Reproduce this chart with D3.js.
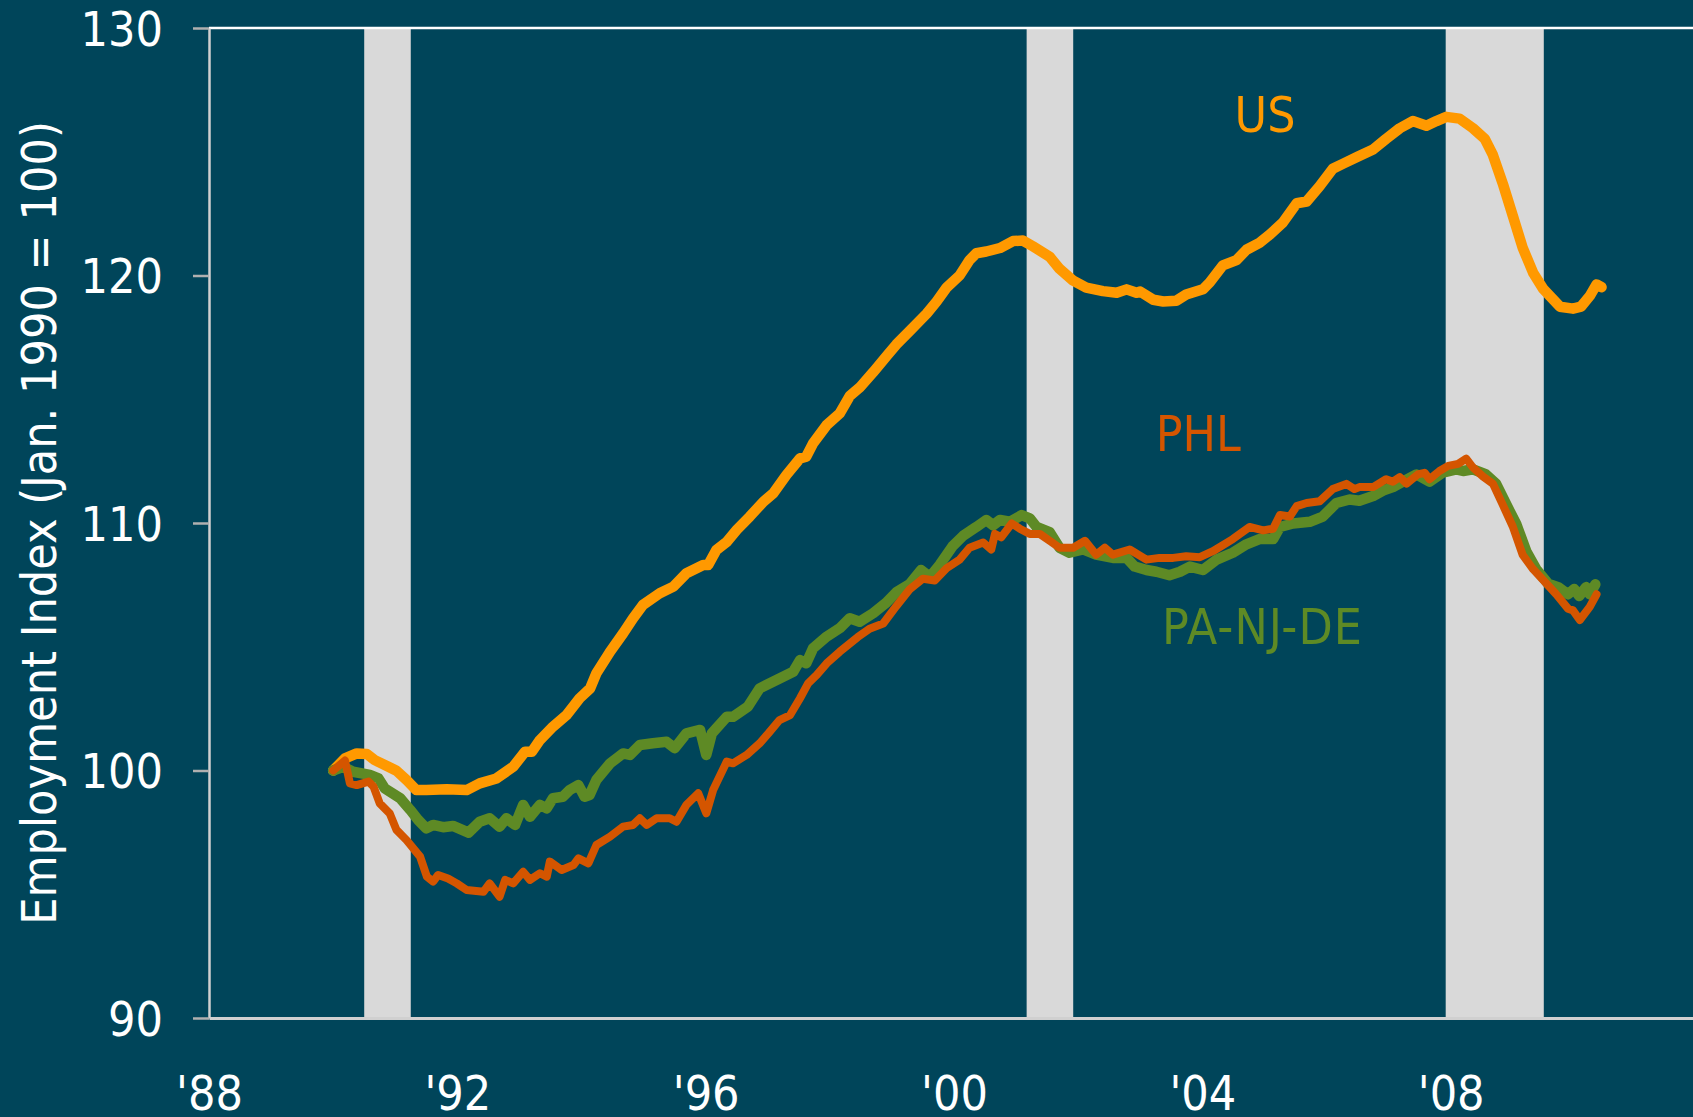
<!DOCTYPE html>
<html><head><meta charset="utf-8">
<script src="https://cdn.jsdelivr.net/npm/d3@7"></script>
<style>
html,body{margin:0;padding:0;background:#00455a;overflow:hidden;}
text{font-family:"DejaVu Sans Condensed","DejaVu Sans",sans-serif;font-stretch:condensed;}
</style></head><body>
<svg id="chart" width="1693" height="1117"></svg>
<script>
// ---- data ----
const yearTicks = [1988, 1992, 1996, 2000, 2004, 2008];
const yearTickLabels = ["'88", "'92", "'96", "'00", "'04", "'08"];
const valueTicks = [90, 100, 110, 120, 130];
const recessionStarts = [1990.5, 2001.17, 2007.92];
const recessionEnds = [1991.25, 2001.92, 2009.5];
const seriesNames = ["US", "PHL", "PA-NJ-DE"];
const yAxisTitle = "Employment Index (Jan. 1990 = 100)";

const usYears = [1990.0,1990.19,1990.38,1990.54,1990.67,1990.89,1991.02,1991.18,1991.34,1991.5,
1991.83,1992.15,1992.36,1992.63,1992.9,1993.09,1993.2,1993.33,1993.54,1993.76,
1993.97,1994.14,1994.24,1994.46,1994.67,1994.83,1994.99,1995.26,1995.48,1995.69,
1995.96,1996.04,1996.17,1996.34,1996.5,1996.71,1996.93,1997.09,1997.3,1997.52,
1997.62,1997.73,1997.95,1998.16,1998.32,1998.48,1998.7,1998.91,1999.07,1999.29,
1999.56,1999.72,1999.88,2000.09,2000.25,2000.36,2000.52,2000.74,2000.95,2001.11,
2001.27,2001.54,2001.7,2001.92,2002.13,2002.4,2002.62,2002.78,2002.94,2003.0,
2003.21,2003.37,2003.58,2003.74,2004.01,2004.12,2004.33,2004.55,2004.71,2004.92,
2005.09,2005.3,2005.52,2005.68,2005.89,2006.1,2006.27,2006.5,2006.75,2006.96,
2007.18,2007.39,2007.61,2007.77,2007.93,2008.14,2008.36,2008.55,2008.68,2008.84,
2009.0,2009.16,2009.33,2009.49,2009.76,2009.97,2010.1,2010.24,2010.35,2010.43];
const usValues = [100.0,100.49,100.69,100.67,100.42,100.15,99.99,99.62,99.21,99.21,
99.24,99.21,99.48,99.68,100.15,100.76,100.76,101.23,101.77,102.24,
102.92,103.32,103.93,104.8,105.54,106.15,106.69,107.16,107.43,107.97,
108.3,108.3,108.9,109.24,109.72,110.26,110.86,111.2,111.94,112.61,
112.68,113.22,113.96,114.43,115.13,115.47,116.1,116.73,117.21,117.77,
118.46,118.95,119.51,120.0,120.62,120.9,120.97,121.11,121.39,121.41,
121.18,120.76,120.27,119.79,119.51,119.37,119.3,119.44,119.3,119.35,
119.02,118.95,118.98,119.23,119.44,119.72,120.41,120.62,121.04,121.32,
121.66,122.15,122.92,122.99,123.61,124.31,124.52,124.8,125.09,125.52,
125.95,126.24,126.05,126.24,126.41,126.34,125.95,125.52,124.87,123.71,
122.42,121.12,120.1,119.46,118.74,118.66,118.74,119.17,119.64,119.53];

const regionYears = [1990.0,1990.16,1990.32,1990.59,1990.73,1990.83,1991.08,1991.24,1991.37,1991.5,
1991.61,1991.77,1991.93,1992.18,1992.36,1992.52,1992.68,1992.79,1992.93,1993.06,
1993.17,1993.33,1993.44,1993.54,1993.7,1993.81,1993.95,1994.05,1994.13,1994.24,
1994.46,1994.67,1994.78,1994.94,1995.15,1995.37,1995.5,1995.69,1995.91,1996.01,
1996.1,1996.34,1996.44,1996.68,1996.87,1997.19,1997.41,1997.52,1997.62,1997.73,
1997.95,1998.16,1998.32,1998.48,1998.7,1998.91,1999.07,1999.29,1999.47,1999.61,
1999.77,1999.98,2000.15,2000.36,2000.52,2000.63,2000.74,2000.9,2001.09,2001.22,
2001.33,2001.54,2001.7,2001.86,2002.08,2002.29,2002.56,2002.78,2002.91,2003.1,
2003.26,2003.47,2003.64,2003.8,2004.01,2004.23,2004.49,2004.71,2004.92,2005.14,
2005.25,2005.46,2005.73,2005.94,2006.16,2006.37,2006.53,2006.75,2006.91,2007.07,
2007.23,2007.45,2007.66,2007.87,2008.09,2008.2,2008.36,2008.57,2008.73,2008.9,
2009.06,2009.22,2009.38,2009.57,2009.73,2009.89,2009.99,2010.07,2010.18,2010.24,
2010.33];
const regionValues = [100.0,100.15,99.95,99.82,99.68,99.28,98.88,98.41,98.0,97.66,
97.8,97.71,97.76,97.49,97.93,98.07,97.73,98.07,97.8,98.61,
98.13,98.61,98.47,98.88,98.94,99.21,99.41,98.94,99.01,99.62,
100.29,100.69,100.63,101.03,101.1,101.16,100.9,101.5,101.64,100.63,
101.5,102.17,102.17,102.58,103.32,103.72,103.99,104.46,104.33,104.94,
105.41,105.75,106.15,106.01,106.36,106.78,107.2,107.54,108.1,107.82,
108.31,109.07,109.49,109.84,110.12,109.91,110.12,110.05,110.32,110.19,
109.84,109.63,109.0,108.8,108.93,108.72,108.59,108.59,108.24,108.1,
108.03,107.89,108.03,108.24,108.1,108.52,108.8,109.14,109.35,109.35,
109.84,109.98,110.05,110.26,110.81,110.95,110.9,111.09,111.31,111.45,
111.67,111.96,111.67,112.03,112.17,112.1,112.17,111.96,111.59,110.73,
109.94,108.85,108.13,107.55,107.41,107.12,107.33,107.05,107.41,107.12,
107.52];

const phlYears = [1990.0,1990.19,1990.27,1990.38,1990.57,1990.65,1990.75,1990.91,1991.02,1991.18,
1991.4,1991.51,1991.61,1991.69,1991.85,1991.99,1992.15,1992.42,1992.52,1992.68,
1992.77,1992.9,1993.06,1993.17,1993.33,1993.44,1993.49,1993.68,1993.87,1993.95,
1994.11,1994.24,1994.46,1994.67,1994.83,1994.94,1995.05,1995.21,1995.42,1995.53,
1995.69,1995.88,1996.01,1996.12,1996.34,1996.44,1996.66,1996.87,1997.01,1997.19,
1997.36,1997.52,1997.65,1997.79,1997.95,1998.16,1998.45,1998.64,1998.86,1999.07,
1999.29,1999.5,1999.69,1999.88,2000.09,2000.25,2000.47,2000.6,2000.66,2000.76,
2000.93,2001.06,2001.22,2001.38,2001.54,2001.7,2001.92,2002.11,2002.29,2002.43,
2002.56,2002.83,2003.1,2003.31,2003.53,2003.74,2003.96,2004.17,2004.49,2004.76,
2004.98,2005.14,2005.25,2005.41,2005.52,2005.68,2005.89,2006.1,2006.32,2006.45,
2006.53,2006.75,2006.96,2007.07,2007.18,2007.29,2007.47,2007.58,2007.66,2007.82,
2007.96,2008.12,2008.25,2008.36,2008.52,2008.68,2008.84,2009.0,2009.16,2009.33,
2009.49,2009.7,2009.89,2009.97,2010.08,2010.24,2010.35];
const phlValues = [100.0,100.4,99.48,99.41,99.55,99.35,98.67,98.27,97.6,97.19,
96.52,95.71,95.51,95.78,95.64,95.44,95.17,95.1,95.44,94.9,
95.58,95.44,95.91,95.58,95.85,95.71,96.32,95.98,96.18,96.45,
96.25,96.99,97.33,97.73,97.8,98.07,97.8,98.07,98.07,97.93,
98.61,99.08,98.27,99.21,100.36,100.29,100.63,101.1,101.5,102.04,
102.24,102.92,103.52,103.86,104.33,104.8,105.39,105.73,105.94,106.64,
107.33,107.75,107.68,108.17,108.52,109.0,109.21,108.93,109.56,109.42,
109.98,109.77,109.56,109.56,109.28,109.0,109.0,109.28,108.72,109.0,
108.72,108.93,108.52,108.59,108.59,108.66,108.62,108.86,109.35,109.84,
109.7,109.77,110.32,110.26,110.68,110.81,110.88,111.37,111.58,111.37,
111.45,111.45,111.77,111.67,111.85,111.59,111.96,112.03,111.77,112.1,
112.31,112.39,112.6,112.24,111.88,111.59,110.73,109.86,108.71,108.13,
107.7,107.12,106.54,106.47,106.08,106.61,107.12];

// ---- chart ----
const W = 1693, H = 1117;
const svg = d3.select("#chart");
const x = d3.scaleLinear().domain([1988, 2012]).range([209, 1699]);
const y = d3.scaleLinear().domain([90, 130]).range([1018, 28]);

svg.append("rect").attr("width", W).attr("height", H).attr("fill", "#00455a");

// recession bars
svg.append("g").selectAll("rect")
  .data(d3.zip(recessionStarts, recessionEnds))
  .join("rect")
  .attr("x", d => x(d[0]))
  .attr("width", d => x(d[1]) - x(d[0]))
  .attr("y", y(130))
  .attr("height", y(90) - y(130))
  .attr("fill", "#d9d9d9");

// top border line
svg.append("line")
  .attr("x1", x(1988)).attr("x2", x(2012))
  .attr("y1", y(130)).attr("y2", y(130))
  .attr("stroke", "#ffffff").attr("stroke-width", 2.5);

// y axis
const yAxis = svg.append("g")
  .attr("transform", `translate(${x(1988)},0)`)
  .call(d3.axisLeft(y).tickValues(valueTicks).tickSize(16).tickSizeOuter(0).tickPadding(30));
yAxis.select(".domain").attr("stroke", "#d0d0d0").attr("stroke-width", 2.5);
yAxis.selectAll(".tick line").attr("stroke", "#b0b0b0").attr("stroke-width", 2.5);
yAxis.selectAll(".tick text").attr("fill", "#ffffff").attr("font-size", 48)
  .attr("font-family", null).attr("dy", "0.36em");

// x axis
const xAxis = svg.append("g")
  .attr("transform", `translate(0,${y(90)})`)
  .call(d3.axisBottom(x).tickValues(yearTicks).tickSize(0).tickSizeOuter(0)
    .tickFormat((d, i) => yearTickLabels[i]));
xAxis.select(".domain").attr("stroke", "#d0d0d0").attr("stroke-width", 3);
xAxis.selectAll(".tick text").attr("fill", "#ffffff").attr("font-size", 48)
  .attr("font-family", null).attr("dy", null).attr("y", 92);

// y axis title
svg.append("text")
  .attr("transform", `translate(56,${(y(130) + y(90)) / 2}) rotate(-90)`)
  .attr("text-anchor", "middle")
  .attr("fill", "#ffffff")
  .attr("font-size", 48)
  .text(yAxisTitle);

// lines
const line = d3.line().x(d => x(d[0])).y(d => y(d[1]));
const series = [
  {name: seriesNames[0], data: d3.zip(usYears, usValues), color: "#ff9900", width: 10.5},
  {name: seriesNames[2], data: d3.zip(regionYears, regionValues), color: "#5e8a25", width: 10.5},
  {name: seriesNames[1], data: d3.zip(phlYears, phlValues), color: "#d45500", width: 8}
];
svg.append("g").selectAll("path")
  .data(series)
  .join("path")
  .attr("d", d => line(d.data))
  .attr("fill", "none")
  .attr("stroke", d => d.color)
  .attr("stroke-width", d => d.width)
  .attr("stroke-linejoin", "round")
  .attr("stroke-linecap", "round");

// series labels
const labels = [
  {text: seriesNames[0], t: 2004.52, v: 125.8, color: "#ff9900", len: null},
  {text: seriesNames[1], t: 2003.25, v: 112.9, color: "#d45500", len: null},
  {text: seriesNames[2], t: 2003.35, v: 105.1, color: "#5e8a25", len: 200}
];
svg.append("g").selectAll("text")
  .data(labels)
  .join("text")
  .attr("x", d => x(d.t))
  .attr("y", d => y(d.v))
  .attr("fill", d => d.color)
  .attr("font-size", 49.5)
  .attr("textLength", d => d.len)
  .attr("lengthAdjust", "spacing")
  .text(d => d.text);
</script>
</body></html>
